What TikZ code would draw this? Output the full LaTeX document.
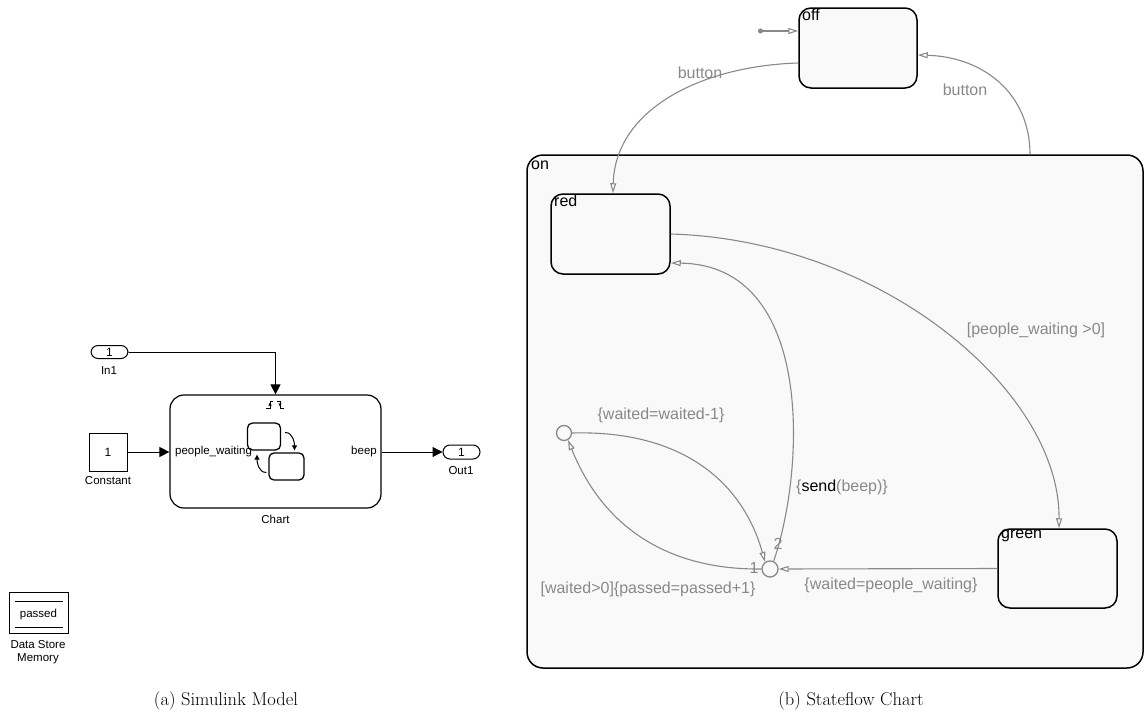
\documentclass[tikz,border=0pt]{standalone}
\usepackage{fontspec}
\newfontfamily\arialfont{Liberation Sans}
\usetikzlibrary{arrows.meta,calc}
\definecolor{trgray}{HTML}{898989}
\definecolor{sfbg}{HTML}{F9F9F9}
\tikzset{
  sfstate/.style={draw=black, line width=1.5pt, rounded corners=12pt, fill=sfbg, inner sep=0pt},
  trans/.style={draw=trgray, line width=1.1pt, -{Triangle[open,length=10pt,width=6pt]}},
  tlabel/.style={text=trgray, font=\arialfont\fontsize{16}{18}\selectfont, inner sep=0pt},
  slabel/.style={text=black, font=\arialfont\fontsize{16}{18}\selectfont, inner sep=0pt, anchor=north west},
  junction/.style={circle, draw=trgray, line width=1.3pt, fill=sfbg, inner sep=0pt},
  blk/.style={draw=black, line width=1pt, inner sep=0pt, font=\arialfont\fontsize{12}{14}\selectfont},
  small/.style={font=\arialfont\fontsize{11.5}{13}\selectfont, inner sep=0pt},
  sig/.style={draw=black, line width=1pt, -{Triangle[length=10pt,width=10pt]}},
  glyphstate/.style={draw=black, line width=1.3pt, rounded corners=5pt, minimum height=27pt, inner sep=0pt},
  glypharrow/.style={line width=1pt, -{Triangle[length=5pt,width=5pt]}},
  caption/.style={font=\fontsize{18.5}{22}\selectfont, inner sep=0pt},
}
\begin{document}
\begin{tikzpicture}[x=1pt,y=-1pt]
\useasboundingbox (0,0) rectangle (1144,720);

% ---------------- Simulink model ----------------
\node[blk, rounded corners=7pt, minimum width=37pt, minimum height=13pt] (in1) at (109.5,352) {1};
\node[small] (in1l) at (109,371) {In1};

\node[blk, line width=1.2pt, rounded corners=14pt, minimum width=211pt, minimum height=113pt] (chart) at (275.5,451.5) {};
\node[small] (chartl) at (275.5,519) {Chart};
\node[small, anchor=west] (pw) at (175,452) {people\_waiting};
\node[small, anchor=east] (bp) at (377,452) {beep};

\node[blk, minimum width=38pt, minimum height=38pt] (const) at (108,452) {1};
\node[small] (constl) at (108,481) {Constant};

\node[blk, rounded corners=7pt, minimum width=37pt, minimum height=14pt] (out1) at (461.5,452) {1};
\node[small] (out1l) at (461,471) {Out1};

\draw[sig] (in1.east) -| (chart.north);
\draw[sig] (const.east) -- (chart.west |- const.east);
\draw[sig] (chart.east |- out1.west) -- (out1.west);

% either-edge trigger glyph
\draw[line width=0.8pt] (266,408) -- (270,408) -- (270,401) -- (273,401);
\draw[line width=0.8pt] (277,401) -- (280,401) -- (280,408) -- (284,408);
\draw[line width=0.5pt,-{Triangle[length=3pt,width=3pt]}] (270,407) -- (270,402.5);
\draw[line width=0.5pt,-{Triangle[length=3pt,width=3pt]}] (280,402) -- (280,406.5);

% chart glyph: two states and two transitions
\node[glyphstate, minimum width=33pt] (ga) at (264,436.5) {};
\node[glyphstate, minimum width=35pt] (gb) at (286.5,466.5) {};
\draw[glypharrow] ([xshift=4pt,yshift=4pt]ga.east) to[out=0,in=90] ([xshift=8pt,yshift=2pt]gb.north);
\draw[glypharrow] ([xshift=-2pt,yshift=-6pt]gb.west) to[out=180,in=-90] ([xshift=-7pt,yshift=-4pt]ga.south);

% data store memory
\node[blk, minimum width=59pt, minimum height=41pt] (dsm) at (38.5,612.5) {};
\draw[line width=1pt] ([xshift=6pt,yshift=-10pt]dsm.north west) -- ([xshift=-6pt,yshift=-10pt]dsm.north east);
\draw[line width=1pt] ([xshift=6pt,yshift=6pt]dsm.south west) -- ([xshift=-6pt,yshift=6pt]dsm.south east);
\node[small] (dsmt) at (38.5,614.5) {passed};
\node[small, align=center] (dsml) at (38,652) {Data Store\\Memory};

\node[caption] (capa) at (226,701) {(a) Simulink Model};

% ---------------- Stateflow chart ----------------
\node[sfstate, rounded corners=16pt, minimum width=616pt, minimum height=513pt] (on) at (835,411.5) {};
\node[slabel] at (531,161) {on};

\node[sfstate, minimum width=118pt, minimum height=80pt] (off) at (858,48) {};
\node[slabel] at (802,9) {off};

\node[sfstate, minimum width=119pt, minimum height=80pt] (red) at (610.5,234) {};
\node[slabel] at (554,195) {red};

\node[sfstate, minimum width=119pt, minimum height=79pt] (green) at (1057.5,568.5) {};
\node[slabel] at (1001,530) {green};

\node[junction, minimum size=16pt] (jb) at (770,569) {};
\node[junction, minimum size=15pt] (jl) at (564,433) {};

% default transition
\fill[trgray] (760.5,31) circle (2.6pt);
\coordinate (dflt) at (760.5,31);
\draw[trans] (dflt) -- ([yshift=17pt]off.west);

% off <-> on
\draw[trans] ([yshift=-15pt]off.west) .. controls (700,66) and (615,110) .. ([xshift=2.5pt]red.north);
\node[tlabel] at (700,73) {button};
\draw[trans] ([xshift=195pt]on.north) .. controls (1030,95) and (985,57) .. ([yshift=-7pt]off.east);
\node[tlabel] at (965,90) {button};

% red -> green
\draw[trans] (red.east) .. controls (880,240) and (1060,390) .. ([xshift=1.5pt]green.north);
\node[tlabel] at (1036,330) {[people\_waiting >0]};

% green -> junction
\draw[trans] (green.west) -- (jb.east);
\node[tlabel] at (891,585) {\{waited=people\_waiting\}};

% junction -> red (priority 2)
\draw[trans] (jb.65) .. controls (805,470) and (815,265) .. ([yshift=-29pt]red.east);
\node[tlabel] at (842,487) {\{\textcolor{black}{send}(beep)\}};
\node[tlabel] at (778,544) {2};

% loop through the left junction (priority 1)
\draw[trans] (jb.west) .. controls (660,570) and (600,520) .. (jl.-60);
\node[tlabel] at (754,568) {1};
\node[tlabel] at (648,589) {[waited>0]\{passed=passed+1\}};
\draw[trans] (jl.east) .. controls (680,430) and (742,480) .. (jb.125);
\node[tlabel] at (661,415) {\{waited=waited-1\}};

\node[caption] (capb) at (851,701) {(b) Stateflow Chart};
\end{tikzpicture}
\end{document}
